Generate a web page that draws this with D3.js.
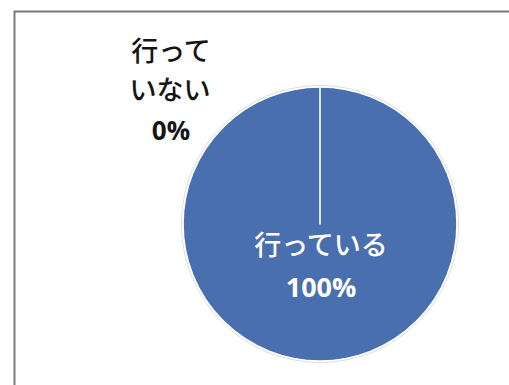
<!DOCTYPE html>
<html>
<head>
<meta charset="utf-8">
<script src="https://cdn.jsdelivr.net/npm/d3@7"></script>
<style>
  html, body { margin: 0; padding: 0; background: #fff; }
  svg { display: block; }
</style>
</head>
<body>
<svg id="chart" width="509" height="385"></svg>
<script>
// Survey answers and their shares (%)
const categories = ["行っている", "行っていない"];
const values = [100, 0];
const labelLines = [["行っている"], ["行って", "いない"]];
const percentLabels = ["100%", "0%"];
const sliceColors = ["#4a6fae", "#d0653c"];

const svg = d3.select("#chart");
const W = 509, H = 385;

// chart frame (extends past the right and bottom edges)
svg.append("rect")
  .attr("x", 14.5).attr("y", 11.5)
  .attr("width", W).attr("height", H)
  .attr("fill", "#fff")
  .attr("stroke", "#7a7a7a")
  .attr("stroke-width", 2);

const cx = 320, cy = 224, radius = 137;

const pie = d3.pie().sort(null).value(d => d.value);
const arcs = pie(categories.map((c, i) => ({ name: c, value: values[i], i })));
const arc = d3.arc().innerRadius(0).outerRadius(radius);

const g = svg.append("g").attr("transform", `translate(${cx},${cy})`);

// soft outline around the disc
g.append("circle")
  .attr("r", radius + 1.5)
  .attr("fill", "none")
  .attr("stroke", "#dcdcdc")
  .attr("stroke-width", 1);

g.selectAll("path.slice")
  .data(arcs)
  .join("path")
  .attr("class", "slice")
  .attr("d", arc)
  .attr("fill", d => sliceColors[d.data.i])
  .attr("stroke", "#ffffff")
  .attr("stroke-width", 1.6)
  .attr("stroke-linejoin", "round");

const jpFont = "'Noto Sans CJK JP', 'Noto Sans', sans-serif";
const numFont = "'Open Sans', 'Noto Sans', sans-serif";

// label inside the large slice
const inside = g.append("text")
  .attr("text-anchor", "middle")
  .attr("fill", "#ffffff");
inside.append("tspan")
  .attr("x", 1).attr("y", 31)
  .attr("font-family", jpFont)
  .attr("font-weight", 500)
  .attr("font-size", 27)
  .text(labelLines[0][0]);
inside.append("tspan")
  .attr("x", 1).attr("y", 73)
  .attr("font-family", numFont)
  .attr("font-weight", "bold")
  .attr("font-size", 27)
  .text(percentLabels[0]);

// label for the zero slice, placed outside at upper left
const outside = g.append("text")
  .attr("text-anchor", "middle")
  .attr("fill", "#151515");
outside.append("tspan")
  .attr("x", -149).attr("y", -163)
  .attr("font-family", jpFont)
  .attr("font-weight", 500)
  .attr("font-size", 27)
  .text(labelLines[1][0]);
outside.append("tspan")
  .attr("x", -150).attr("y", -124)
  .attr("font-family", jpFont)
  .attr("font-weight", 500)
  .attr("font-size", 27)
  .text(labelLines[1][1]);
outside.append("tspan")
  .attr("x", -149).attr("y", -84)
  .attr("font-family", numFont)
  .attr("font-weight", "bold")
  .attr("font-size", 26)
  .text(percentLabels[1]);
</script>
</body>
</html>
